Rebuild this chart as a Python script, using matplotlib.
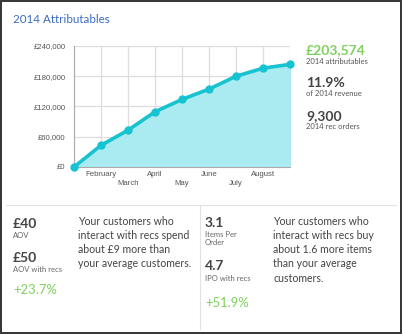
import matplotlib

matplotlib.use("Agg")
import matplotlib.pyplot as plt
from matplotlib.patches import Rectangle
from matplotlib.lines import Line2D

W, H = 403, 335

months = ["January", "February", "March", "April", "May", "June", "July", "August", "September"]
tick_labels = ["", "February", "March", "April", "May", "June", "July", "August", ""]
cumulative = [0, 43000, 73000, 109500, 134000, 154500, 180000, 196000, 203574]
y_ticks = [0, 60000, 120000, 180000, 240000]

stats = [("£203,574", "2014 attributables"), ("11.9%", "of 2014 revenue"), ("9,300", "2014 rec orders")]

LINE = "#17c3d1"
FILL = "#a9ebf0"
GREEN = "#7dd15e"
DARK = "#444444"
BLUE = "#3b6cc0"
FONT = "Lato"


def fx(px):
    return px / W


def fy(py):
    return 1 - py / H


def txt(x, y, s, size, color=DARK, weight="normal", va="baseline", **kw):
    fig.text(fx(x), fy(y), s, fontsize=size, color=color, fontweight=weight,
             family=FONT, va=va, **kw)


fig = plt.figure(figsize=(W / 100, H / 100), dpi=100)
fig.patch.set_facecolor("white")

# outer frame
fig.add_artist(Rectangle((fx(1), fy(333)), fx(400), (333 - 1) / H, transform=fig.transFigure,
                         fill=False, edgecolor="#333333", linewidth=1.4))

txt(13, 23, "2014 Attributables", 8.4, color=BLUE)

# chart
ax = fig.add_axes([fx(74), fy(167), fx(290 - 74), (167 - 46) / H])
x = list(range(len(months)))
ax.fill_between(x, cumulative, color=FILL, zorder=1)
ax.plot(x, cumulative, color=LINE, linewidth=2.6, marker="o", markersize=5, zorder=3,
        clip_on=False)
ax.set_xlim(0, len(months) - 1)
ax.set_ylim(0, 240000)
ax.set_yticks(y_ticks)
ax.set_yticklabels([f"£{v:,}" for v in y_ticks], fontsize=5.6, color="#555555",
                   family="Liberation Sans")
ax.set_xticks(x)
ax.set_xticklabels([])
for i, lab in enumerate(tick_labels):
    if lab:
        off = -0.03 if i % 2 == 1 else -0.105
        ax.text(i, off, lab, transform=ax.get_xaxis_transform(), ha="center", va="top",
                fontsize=5.6, color="#555555", family="Liberation Sans")
ax.tick_params(length=0, pad=6)
ax.grid(True, color="#dddddd", linewidth=0.9, zorder=0)
ax.set_axisbelow(True)
for side in ["top", "right"]:
    ax.spines[side].set_visible(False)
ax.spines["left"].set_color("#aaaaaa")
ax.spines["bottom"].set_color("#aaaaaa")

# side stats
for i, (big, small) in enumerate(stats):
    y0 = 54 + i * 33
    txt(306, y0, big, 10, color=GREEN if i == 0 else DARK, weight="bold")
    txt(306, y0 + 9.5, small, 5.5, color="#555555")

# dividers
fig.add_artist(Line2D([fx(6), fx(396)], [fy(205), fy(205)], color="#e2e2e2", linewidth=0.8))
fig.add_artist(Line2D([fx(200), fx(200)], [fy(206), fy(329)], color="#e2e2e2", linewidth=0.8))

# bottom left block
txt(13, 228, "£40", 10, weight="bold")
txt(13, 238, "AOV", 5.5, color="#666666")
txt(13, 262, "£50", 10, weight="bold")
txt(13, 272, "AOV with recs", 5.5, color="#666666")
txt(13, 294, "+23.7%", 9.4, color=GREEN)
txt(78, 216, "Your customers who\ninteract with recs spend\nabout £9 more than\nyour average customers.",
    7.6, va="top", linespacing=1.35)

# bottom right block
txt(205, 227, "3.1", 10, weight="bold")
txt(205, 237, "Items Per", 5.5, color="#666666")
txt(205, 245, "Order", 5.5, color="#666666")
txt(205, 270, "4.7", 10, weight="bold")
txt(205, 281, "IPO with recs", 5.5, color="#666666")
txt(205, 307, "+51.9%", 9.4, color=GREEN)
txt(273, 216, "Your customers who\ninteract with recs buy\nabout 1.6 more items\nthan your average\ncustomers.",
    7.6, va="top", linespacing=1.35)

fig.savefig("out.png", dpi=100)
